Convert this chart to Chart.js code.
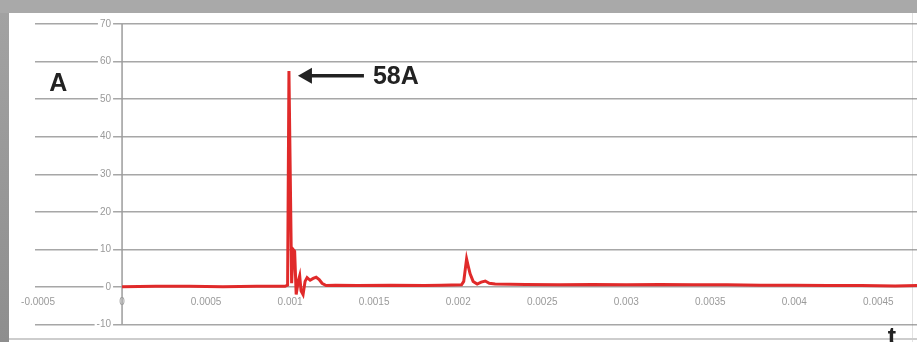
<!DOCTYPE html>
<html>
<head>
<meta charset="utf-8">
<script src="https://cdn.jsdelivr.net/npm/chart.js@4.4.1/dist/chart.umd.min.js"></script>
<style>
  html, body { margin: 0; padding: 0; }
  body { width: 917px; height: 342px; background: #a9a9a9; position: relative; overflow: hidden; }
  #leftStrip { position: absolute; left: 0; top: 13px; width: 9px; height: 329px; background: linear-gradient(#a2a2a2, #8e8e8e); }
  #panel { position: absolute; left: 9px; top: 13px; width: 908px; height: 329px; background: #fff; }
  #edgeRight { position: absolute; left: 912px; top: 13px; width: 1px; height: 329px; background: #e2e2e2; }
  #edgeBottom { position: absolute; left: 9px; top: 338px; width: 908px; height: 2px; background: #cdcdcd; }
  #chart { position: absolute; left: 0; top: 0; }
</style>
</head>
<body>
<div id="leftStrip"></div>
<div id="panel"></div>
<div id="edgeRight"></div>
<div id="edgeBottom"></div>
<canvas id="chart" width="917" height="342"></canvas>
<script>
// inrush current trace: time (s) and current (A)
const timeValues = [
    0, 0.0002, 0.0004, 0.0006, 0.0008, 0.00097,
    0.000985, 0.000993, 0.001009, 0.001018, 0.001027, 0.001036,
    0.001048, 0.001057, 0.001065, 0.001077, 0.001089, 0.001101,
    0.001119, 0.001137, 0.001155, 0.001173, 0.00119, 0.001214,
    0.00127, 0.0014, 0.0016, 0.0018, 0.0019, 0.00202,
    0.002033, 0.00205, 0.00206, 0.002071, 0.002089, 0.002113,
    0.002137, 0.002161, 0.002185, 0.00222, 0.0024, 0.0026,
    0.0028, 0.003, 0.0032, 0.0034, 0.0036, 0.0038,
    0.004, 0.0042, 0.0044, 0.0046, 0.00473
];
const currentValues = [
    0.1, 0.2, 0.2, 0.1, 0.2, 0.2,
    0.5, 57.5, 1, 10, 9.5, -2,
    1.5, 3, -1, -2, 1.5, 2.5,
    1.8, 2.3, 2.6, 2, 1, 0.4,
    0.5, 0.4, 0.5, 0.4, 0.5, 0.6,
    1.5, 7.5, 5.5, 3.5, 1.5, 0.8,
    1.3, 1.6, 1.0, 0.8, 0.7, 0.6,
    0.7, 0.6, 0.7, 0.6, 0.6, 0.5,
    0.5, 0.4, 0.4, 0.3, 0.4
];

const xTicks = [-0.0005, 0, 0.0005, 0.001, 0.0015, 0.002, 0.0025, 0.003, 0.0035, 0.004, 0.0045];
const xTickLabels = ['-0.0005', '0', '0.0005', '0.001', '0.0015', '0.002', '0.0025', '0.003', '0.0035', '0.004', '0.0045'];
const yTicks = [70, 60, 50, 40, 30, 20, 10, 0, -10];
const yTickLabels = ['70', '60', '50', '40', '30', '20', '10', '0', '-10'];

const peakLabel = '58A';
const yAxisTitle = 'A';
const xAxisTitle = 't';

const tickFont = '10px "Liberation Sans", Arial, sans-serif';
const boldFont = 'bold 25px "Liberation Sans", Arial, sans-serif';

// Excel style axes: crossing at t = 0 and A = 0
const crossAxes = {
    id: 'crossAxes',
    beforeDatasetsDraw(chart) {
        const { ctx, scales: { x, y } } = chart;
        const x0 = x.getPixelForValue(0);
        const y0 = y.getPixelForValue(0);
        ctx.save();
        ctx.strokeStyle = '#9c9c9c';
        ctx.lineWidth = 1.5;
        ctx.beginPath();
        ctx.moveTo(x0, y.getPixelForValue(70));
        ctx.lineTo(x0, y.getPixelForValue(-10));
        ctx.stroke();

        ctx.font = tickFont;
        ctx.textBaseline = 'middle';
        ctx.textAlign = 'right';
        yTicks.forEach((v, i) => {
            const py = y.getPixelForValue(v);
            const w = ctx.measureText(yTickLabels[i]).width;
            ctx.fillStyle = '#fff';
            ctx.fillRect(x0 - 13 - w, py - 6, w + 4, 12);
            ctx.fillStyle = '#9a9a9a';
            ctx.fillText(yTickLabels[i], x0 - 11, py);
        });

        ctx.textAlign = 'center';
        xTicks.forEach((v, i) => {
            ctx.fillStyle = '#9a9a9a';
            ctx.fillText(xTickLabels[i], x.getPixelForValue(v), y0 + 15);
        });
        ctx.restore();
    },
    afterDatasetsDraw(chart) {
        const { ctx, scales: { x, y } } = chart;
        ctx.save();
        ctx.fillStyle = '#222';
        ctx.strokeStyle = '#222';
        ctx.font = boldFont;
        ctx.textBaseline = 'middle';
        ctx.textAlign = 'center';
        ctx.fillText(yAxisTitle, x.getPixelForValue(-0.00038), y.getPixelForValue(54));

        // arrow pointing at the peak
        const tipX = x.getPixelForValue(timeValues[7]) + 9;
        const tipY = y.getPixelForValue(56.2);
        ctx.lineWidth = 3.5;
        ctx.beginPath();
        ctx.moveTo(tipX + 10, tipY);
        ctx.lineTo(tipX + 66, tipY);
        ctx.stroke();
        ctx.beginPath();
        ctx.moveTo(tipX, tipY);
        ctx.lineTo(tipX + 14, tipY - 8);
        ctx.lineTo(tipX + 14, tipY + 8);
        ctx.closePath();
        ctx.fill();

        ctx.textAlign = 'left';
        ctx.fillText(peakLabel, tipX + 75, tipY + 1);

        ctx.textAlign = 'center';
        ctx.textBaseline = 'alphabetic';
        ctx.fillText(xAxisTitle, x.getPixelForValue(0.00458), chart.height + 3);
        ctx.restore();
    }
};

const ctx = document.getElementById('chart').getContext('2d');

new Chart(ctx, {
    type: 'line',
    data: {
        datasets: [{
            data: timeValues.map((t, i) => ({ x: t, y: currentValues[i] })),
            borderColor: '#e02a2a',
            borderWidth: 3,
            pointRadius: 0,
            tension: 0,
            fill: false
        }]
    },
    options: {
        responsive: false,
        animation: false,
        devicePixelRatio: 1,
        layout: { padding: { left: 35, right: 0, top: 24, bottom: 17.4 } },
        plugins: {
            legend: { display: false },
            tooltip: { enabled: false }
        },
        scales: {
            x: {
                type: 'linear',
                min: -0.000518,
                max: 0.00473,
                display: false
            },
            y: {
                min: -10,
                max: 70,
                ticks: { display: false, stepSize: 10 },
                grid: { color: 'rgba(130, 130, 130, 0.7)', lineWidth: 1.5, drawTicks: false, tickLength: 0 },
                border: { display: false }
            }
        }
    },
    plugins: [crossAxes]
});
</script>
</body>
</html>
